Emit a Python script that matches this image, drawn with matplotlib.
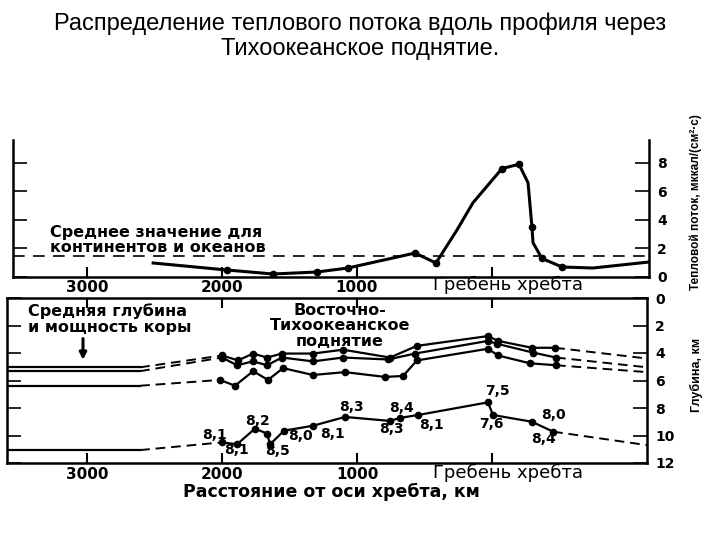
import matplotlib
matplotlib.use("Agg")
import matplotlib.pyplot as plt

plt.rcParams['font.family'] = ['DejaVu Sans']

# тепловой поток вдоль профиля (км от оси хребта, мккал/(см2 с))
hf_x = [2510, 1963, 1622, 1296, 1067, 570, 415, 259, 141, -74, -200, -267, -296, -304, -370, -519, -748, -1163]
hf_q = [0.98, 0.49, 0.21, 0.35, 0.63, 1.68, 0.98, 3.3, 5.2, 7.6, 7.9, 6.6, 3.5, 2.4, 1.3, 0.7, 0.63, 1.05]
hf_measured = [1, 2, 3, 4, 5, 6, 9, 10, 12, 14, 15]
mean_flow = 1.5

# границы в коре, глубина в км
top_x = [3600, 2607, 2000, 1881, 1770, 1667, 1556, 1326, 1104, 756, 556, 30, -44, -296, -467, -1148]
top_d = [5.04, 5.04, 4.18, 4.54, 4.04, 4.33, 4.04, 4.04, 3.76, 4.33, 3.48, 2.77, 3.12, 3.62, 3.62, 4.4]

mid_x = [3600, 2607, 2000, 1889, 1770, 1667, 1556, 1326, 1104, 770, 570, 30, -37, -304, -474, -1148]
mid_d = [5.32, 5.32, 4.33, 4.89, 4.61, 4.89, 4.33, 4.61, 4.33, 4.47, 4.04, 3.12, 3.33, 3.97, 4.33, 5.04]

low_x = [3600, 2607, 2015, 1904, 1770, 1659, 1548, 1326, 1089, 793, 659, 556, 30, -44, -281, -474, -1148]
low_d = [6.38, 6.38, 5.96, 6.38, 5.32, 5.96, 5.1, 5.6, 5.39, 5.74, 5.67, 4.54, 3.69, 4.18, 4.75, 4.89, 5.39]

moho_x = [3600, 2607, 2000, 1889, 1756, 1667, 1644, 1541, 1326, 1089, 756, 681, 548, 30, -7, -296, -452, -1148]
moho_d = [11.06, 11.06, 10.5, 10.64, 9.5, 9.86, 10.64, 9.65, 9.29, 8.65, 8.94, 8.72, 8.51, 7.59, 8.51, 9.0, 9.72, 10.7]

# скорости (км/с) у точек на подошве коры
vel_idx = [2, 3, 4, 6, 7, 8, 9, 10, 11, 12, 13, 14, 15, 16]
vel_text = ['8,1', '8,1', '8,2', '8,5', '8,0', '8,1', '8,3', '8,3', '8,4', '8,1', '7,5', '7,6', '8,0', '8,4']
vel_off = [(-8, 7), (-1, -6), (3, 8), (7, -7), (16, -5), (19, -8), (6, 10), (1, -8),
           (1, 10), (13, -10), (9, 11), (-2, -9), (21, 7), (-10, -7)]

dist_ticks = [3000, 2000, 1000, 0]
dist_labels = ['3000', '2000', '1000', '']

W, H = 720, 540


def fx(x):
    return x / W


def fy(y):
    return 1 - y / H


fig = plt.figure(figsize=(7.2, 5.4), dpi=100)

fig.text(0.5, fy(36), 'Распределение теплового потока вдоль профиля через\nТихоокеанское поднятие.',
         ha='center', va='center', fontsize=17, family='Liberation Sans', linespacing=1.15)

bold = dict(fontweight='bold', fontsize=11)
note = dict(fontweight='bold', fontsize=11.5, linespacing=1.05)

# --- верхняя панель: тепловой поток ---
ax1 = fig.add_axes([fx(13), fy(277), fx(636), 137 / H])
ax1.set_xlim(3548, -1163)
ax1.set_ylim(0, 9.6)
ax1.plot(hf_x, hf_q, color='black', lw=2.2, marker='o', ms=4.5, markevery=hf_measured)
ax1.axhline(mean_flow, color='black', lw=1.2, ls=(0, (7, 5)))
ax1.spines['top'].set_visible(False)
for s in ['left', 'right', 'bottom']:
    ax1.spines[s].set_linewidth(1.8)
ax1.set_yticks([0, 2, 4, 6, 8])
ax1.set_yticklabels(['0', '2', '4', '6', '8'], fontweight='bold', fontsize=10)
ax1.tick_params(axis='y', left=True, right=True, labelleft=False, labelright=True,
                direction='in', length=10, width=1.2, pad=6)
ax1.set_xticks(dist_ticks)
ax1.set_xticklabels(dist_labels, **bold)
ax1.tick_params(axis='x', direction='in', length=7, width=1.5, pad=2)

fig.text(fx(50), fy(240), 'Среднее значение для\nконтинентов и океанов', ha='left', va='center', **note)
fig.text(fx(508), fy(285), 'Гребень хребта', ha='center', va='center', fontsize=13)
fig.text(fx(696), fy(202), 'Тепловой поток, мккал/(см²·с)', rotation=90, ha='center', va='center',
         fontsize=8.5, fontweight='bold', family='Liberation Sans')

# --- нижняя панель: строение коры ---
ax2 = fig.add_axes([fx(7), fy(463), fx(640), 165 / H])
ax2.set_xlim(3593, -1148)
ax2.set_ylim(11.84, 0.14)


def draw_boundary(xs, ds):
    ax2.plot(xs[:2], ds[:2], color='black', lw=1.6)
    ax2.plot(xs[1:3], ds[1:3], color='black', lw=1.4, ls=(0, (5, 3)))
    ax2.plot(xs[2:-1], ds[2:-1], color='black', lw=1.6, marker='o', ms=4.5)
    ax2.plot(xs[-2:], ds[-2:], color='black', lw=1.4, ls=(0, (5, 3)))


for xs, ds in [(top_x, top_d), (mid_x, mid_d), (low_x, low_d), (moho_x, moho_d)]:
    draw_boundary(xs, ds)

for i, t, off in zip(vel_idx, vel_text, vel_off):
    ax2.annotate(t, (moho_x[i], moho_d[i]), xytext=off, textcoords='offset pixels',
                 ha='center', va='center', fontweight='bold', fontsize=10)

ax2.annotate('', xy=(3030, 4.7), xytext=(3030, 2.75),
             arrowprops=dict(arrowstyle='-|>', color='black', lw=2.2, mutation_scale=10))

for s in ax2.spines.values():
    s.set_linewidth(1.8)
ax2.set_yticks([0, 2, 4, 6, 8, 10, 12])
ax2.set_yticklabels(['0', '2', '4', '6', '8', '10', '12'], fontweight='bold', fontsize=10)
ax2.tick_params(axis='y', left=True, right=True, labelleft=False, labelright=True,
                direction='in', length=10, width=1.2, pad=6)
ax2.set_xticks(dist_ticks)
ax2.set_xticklabels(dist_labels, **bold)
ax2.tick_params(axis='x', top=True, bottom=True, direction='in', length=7, width=1.5, pad=3)

fig.text(fx(28), fy(319), 'Средняя глубина\nи мощность коры', ha='left', va='center', **note)
fig.text(fx(340), fy(326), 'Восточно-\nТихоокеанское\nподнятие', ha='center', va='center',
         multialignment='center', **note)
fig.text(fx(508), fy(473), 'Гребень хребта', ha='center', va='center', fontsize=13)
fig.text(fx(331), fy(492), 'Расстояние от оси хребта, км', ha='center', va='center',
         fontweight='bold', fontsize=12.5)
fig.text(fx(696), fy(375), 'Глубина, км', rotation=90, ha='center', va='center',
         fontsize=9, fontweight='bold', family='Liberation Sans')

fig.savefig('out.png', dpi=100)
